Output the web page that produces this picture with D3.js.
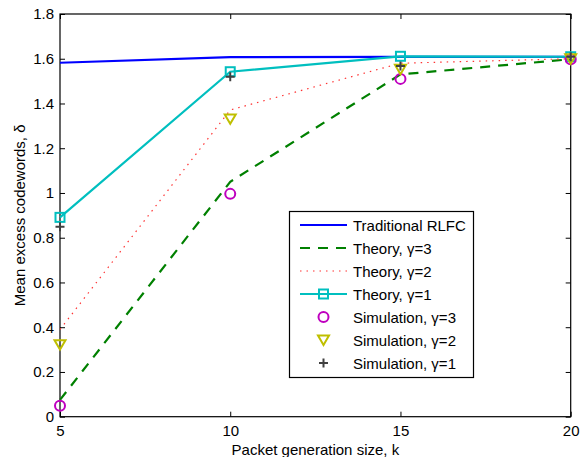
<!DOCTYPE html>
<html><head><meta charset="utf-8">
<script src="https://cdn.jsdelivr.net/npm/d3@7"></script>
<style>
html,body{margin:0;padding:0;background:#fff;}
svg{display:block;font-family:"Liberation Sans",Arial,sans-serif;}
</style>
</head><body>
<svg id="chart" width="581" height="457"></svg>
<script>
const kValues = [5, 10, 15, 20];
const traditional = [1.582, 1.607, 1.608, 1.609];
const theory3 = [0.075, 1.05, 1.53, 1.598];
const theory2 = [0.39, 1.371, 1.58, 1.600];
const theory1 = [0.891, 1.542, 1.611, 1.609];
const sim3 = [0.049, 0.996, 1.51, 1.598];
const sim2 = [0.322, 1.331, 1.553, 1.600];
const sim1 = [0.849, 1.520, 1.568, 1.609];
const xTicks = [5, 10, 15, 20];
const yTicks = [0, 0.2, 0.4, 0.6, 0.8, 1, 1.2, 1.4, 1.6, 1.8];
const legendLabels = ["Traditional RLFC", "Theory, \u03b3=3", "Theory, \u03b3=2", "Theory, \u03b3=1",
  "Simulation, \u03b3=3", "Simulation, \u03b3=2", "Simulation, \u03b3=1"];

const L = 60, R = 570.7, T = 14, B = 416.7;
const svg = d3.select("#chart");
const x = d3.scaleLinear().domain([5, 20]).range([L, R]);
const y = d3.scaleLinear().domain([0, 1.8]).range([B, T]);
const FS = 15;

// axes
const tickLen = 5;
svg.append("g").attr("transform", `translate(0,${B})`)
  .call(d3.axisBottom(x).tickValues(xTicks).tickSizeInner(-tickLen).tickSizeOuter(0).tickPadding(9).tickFormat(d3.format("d")))
  .call(g => g.select(".domain").remove())
  .call(g => g.selectAll("text").attr("font-size", FS).attr("fill", "#000").attr("font-family", "Liberation Sans, Arial, sans-serif"));
svg.append("g").attr("transform", `translate(0,${T})`)
  .call(d3.axisTop(x).tickValues(xTicks).tickSizeInner(-tickLen).tickSizeOuter(0).tickFormat(""))
  .call(g => g.select(".domain").remove());
svg.append("g").attr("transform", `translate(${L},0)`)
  .call(d3.axisLeft(y).tickValues(yTicks).tickSizeInner(-tickLen).tickSizeOuter(0).tickPadding(6).tickFormat(d => d3.format("")(+d.toFixed(1))))
  .call(g => g.select(".domain").remove())
  .call(g => g.selectAll("text").attr("font-size", FS).attr("fill", "#000").attr("font-family", "Liberation Sans, Arial, sans-serif"));
svg.append("g").attr("transform", `translate(${R},0)`)
  .call(d3.axisRight(y).tickValues(yTicks).tickSizeInner(-tickLen).tickSizeOuter(0).tickFormat(""))
  .call(g => g.select(".domain").remove());
svg.selectAll(".tick line").attr("stroke", "#000");
svg.append("rect").attr("x", L).attr("y", T).attr("width", R - L).attr("height", B - T)
  .attr("fill", "none").attr("stroke", "#000").attr("stroke-width", 1.2);

// axis labels
svg.append("text").attr("x", (L + R) / 2).attr("y", 455).attr("text-anchor", "middle")
  .attr("font-size", FS).text("Packet generation size, k");
svg.append("text").attr("transform", `translate(25,${(T + B) / 2}) rotate(-90)`).attr("text-anchor", "middle")
  .attr("font-size", FS).text("Mean excess codewords, \u03b4");

const line = d3.line().x((d, i) => x(kValues[i])).y(d => y(d));
const styles = [
  {data: traditional, color: "#0000ff", w: 2.2, dash: null},
  {data: theory3, color: "#008000", w: 2.2, dash: "10,8"},
  {data: theory2, color: "#ff3333", w: 1.2, dash: "1.5,5"},
  {data: theory1, color: "#00bfbf", w: 2.2, dash: null},
];
styles.forEach(s => {
  svg.append("path").datum(s.data).attr("d", line).attr("fill", "none")
    .attr("stroke", s.color).attr("stroke-width", s.w).attr("stroke-dasharray", s.dash);
});

// marker drawers
function square(g, cx, cy) {
  g.append("rect").attr("x", cx - 4.5).attr("y", cy - 4.5).attr("width", 9).attr("height", 9)
    .attr("fill", "none").attr("stroke", "#00bfbf").attr("stroke-width", 2);
}
function circle(g, cx, cy) {
  g.append("circle").attr("cx", cx).attr("cy", cy).attr("r", 5)
    .attr("fill", "none").attr("stroke", "#bf00bf").attr("stroke-width", 2);
}
function tri(g, cx, cy) {
  const s = 5.5;
  g.append("path").attr("d", `M${cx - s},${cy - s * 0.8}L${cx + s},${cy - s * 0.8}L${cx},${cy + s * 0.9}Z`)
    .attr("fill", "none").attr("stroke", "#bfbf00").attr("stroke-width", 2);
}
function plus(g, cx, cy) {
  const s = 4.5;
  g.append("path").attr("d", `M${cx - s},${cy}H${cx + s}M${cx},${cy - s}V${cy + s}`)
    .attr("stroke", "#404040").attr("stroke-width", 2);
}
const mg = svg.append("g");
theory1.forEach((v, i) => square(mg, x(kValues[i]), y(v)));
sim3.forEach((v, i) => circle(mg, x(kValues[i]), y(v)));
sim2.forEach((v, i) => tri(mg, x(kValues[i]), y(v)));
sim1.forEach((v, i) => plus(mg, x(kValues[i]), y(v)));

// legend
const lg = svg.append("g");
lg.append("rect").attr("x", 289.5).attr("y", 211.5).attr("width", 184).attr("height", 166)
  .attr("fill", "#fff").attr("stroke", "#000").attr("stroke-width", 1.2);
const rowY = i => 225 + i * 23;
const lx1 = 300, lx2 = 347, lmid = 323.5;
legendLabels.forEach((t, i) => {
  const cy = rowY(i);
  if (i < 4) {
    const s = styles[i];
    lg.append("line").attr("x1", lx1).attr("x2", lx2).attr("y1", cy).attr("y2", cy)
      .attr("stroke", s.color).attr("stroke-width", s.w).attr("stroke-dasharray", s.dash);
    if (i === 3) square(lg, lmid, cy);
  } else if (i === 4) circle(lg, lmid, cy);
  else if (i === 5) tri(lg, lmid, cy);
  else plus(lg, lmid, cy);
  lg.append("text").attr("x", 353).attr("y", cy + 5.5).attr("font-size", FS).text(t);
});
</script>
</body></html>
